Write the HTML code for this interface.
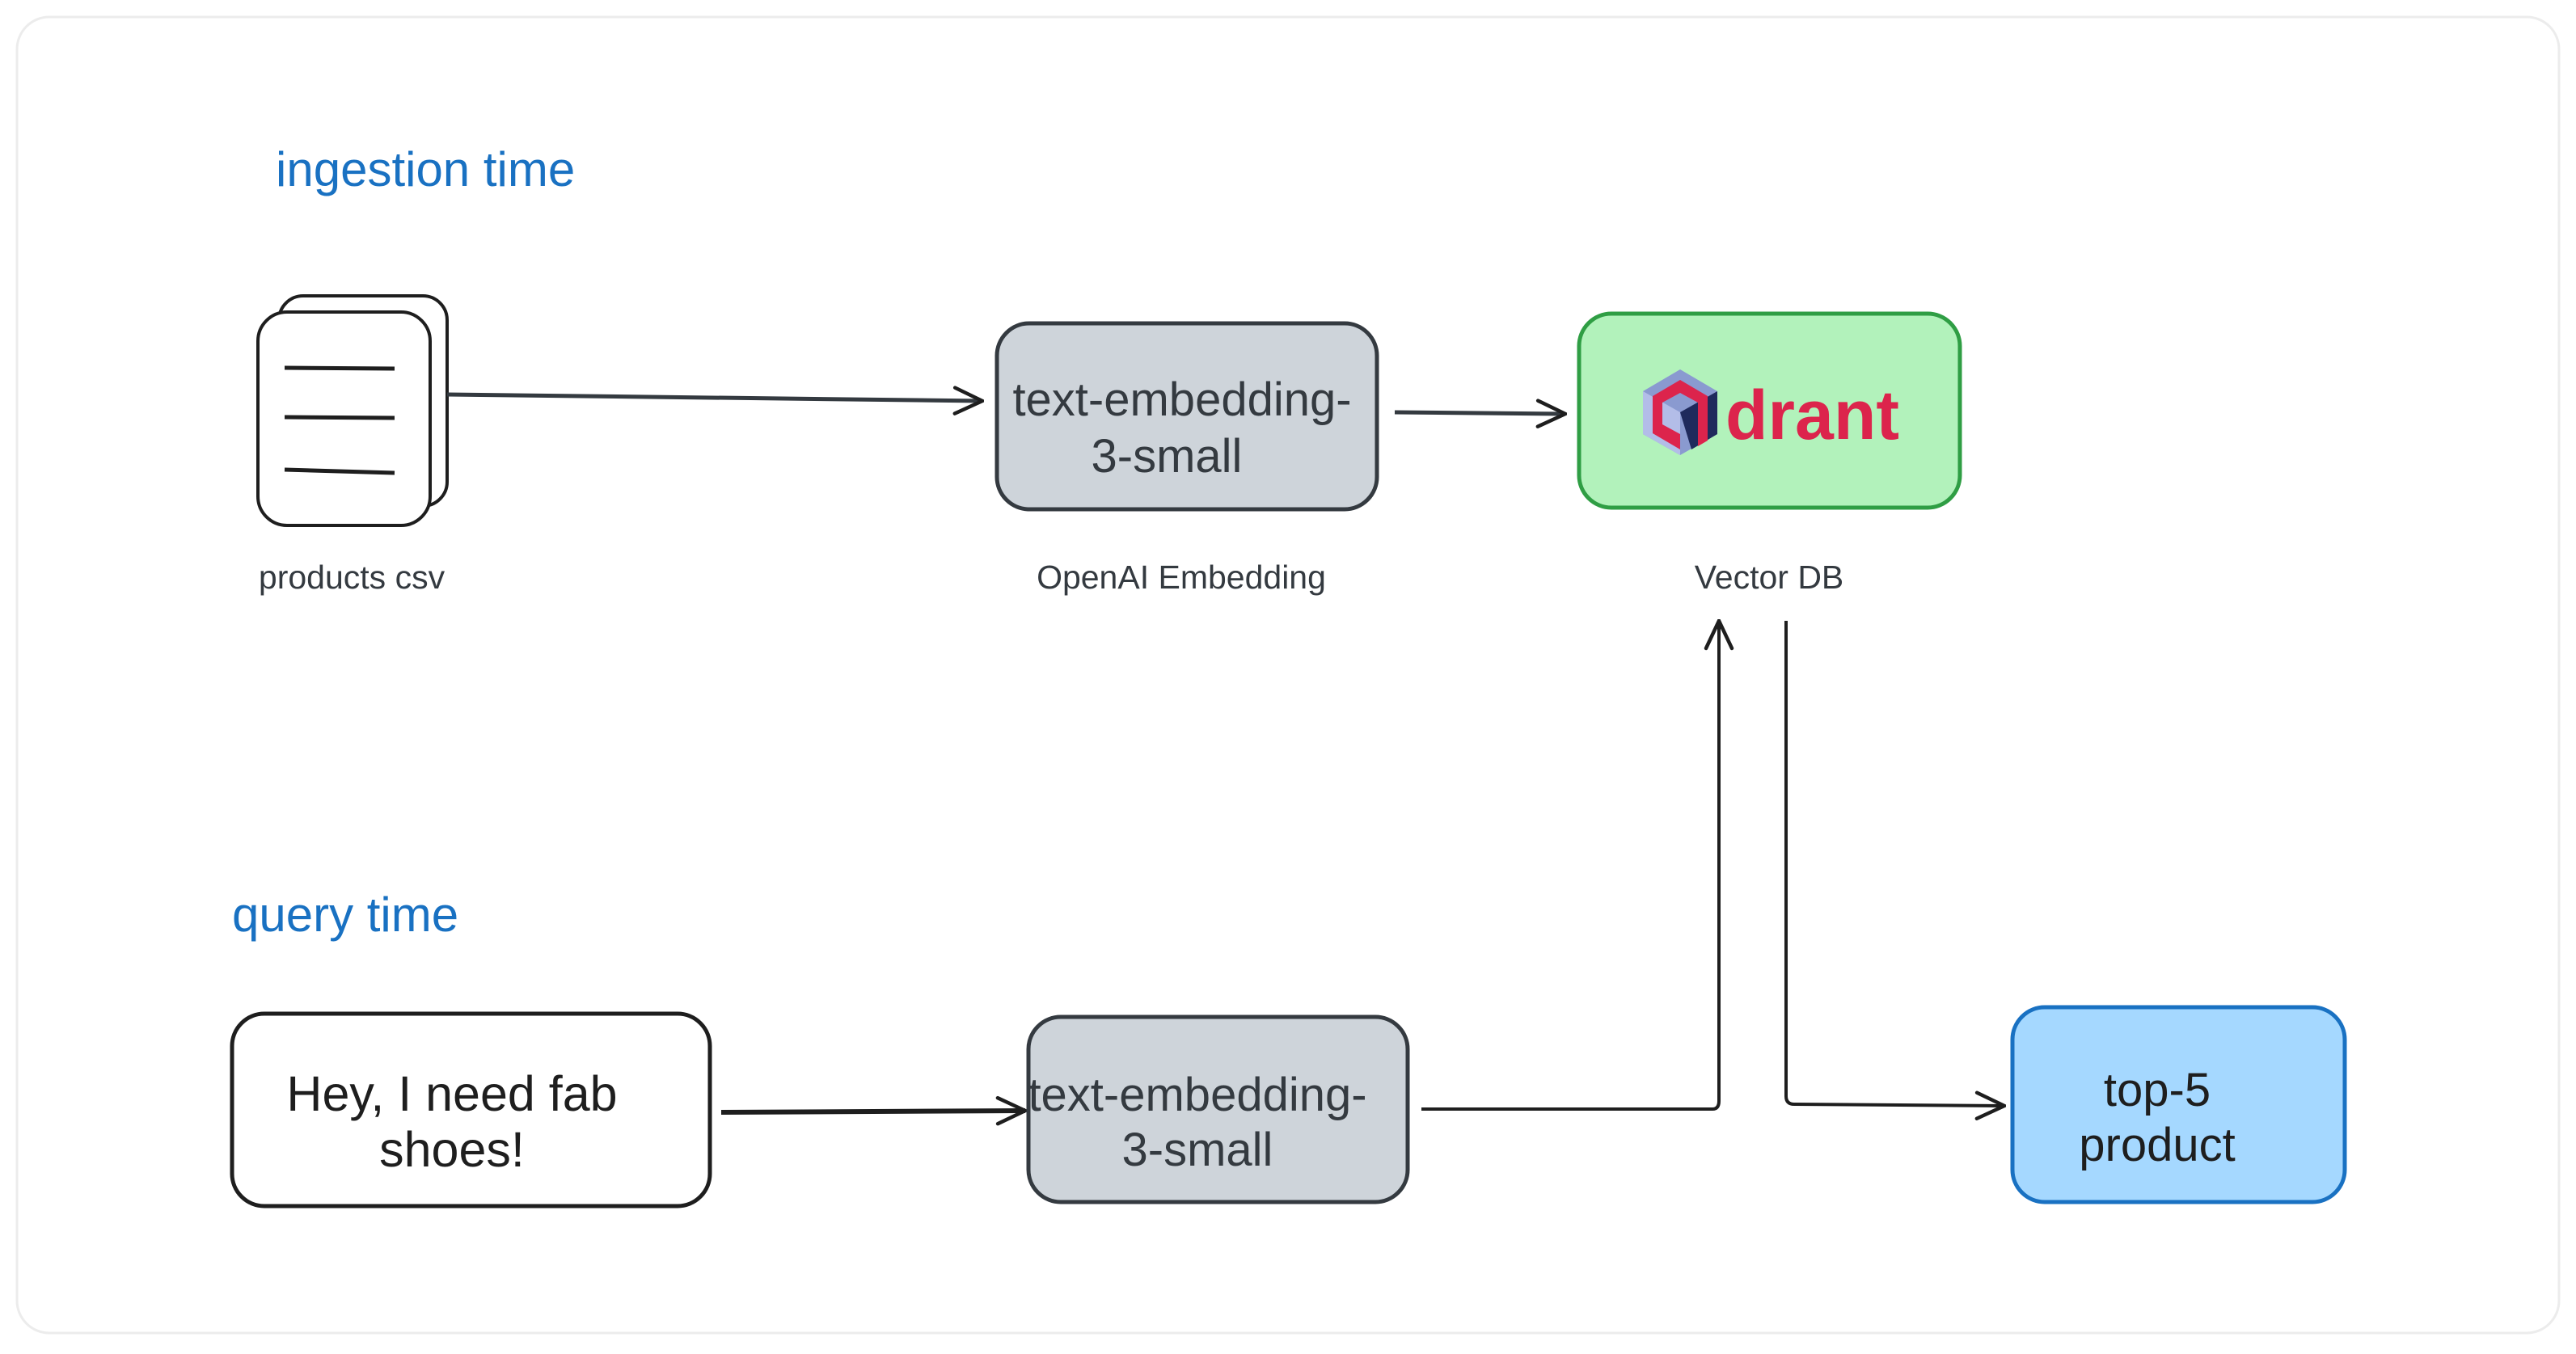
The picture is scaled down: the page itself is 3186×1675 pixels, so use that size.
<!DOCTYPE html>
<html><head><meta charset="utf-8"><style>
html,body{margin:0;padding:0;background:#fff;}
body{width:3186px;height:1670px;overflow:hidden;}
svg text{font-family:"Liberation Sans",sans-serif;}
</style></head><body>
<svg width="3186" height="1670" viewBox="0 0 3186 1670" xmlns="http://www.w3.org/2000/svg">
<defs>
<marker id="ahb" viewBox="0 0 40 40" refX="38" refY="20" markerWidth="40" markerHeight="40" markerUnits="userSpaceOnUse" orient="auto">
<path d="M4,4 L38,20 L4,36" fill="none" stroke="#1e1e1e" stroke-width="4.5" stroke-linecap="round"/>
</marker>
</defs>
<rect x="21" y="21" width="3144" height="1628" rx="40" fill="#fff" stroke="#ececec" stroke-width="3"/>

<text x="341" y="230" font-size="60" fill="#1971c2">ingestion time</text>
<text x="287" y="1152" font-size="60" fill="#1971c2">query time</text>

<rect x="345" y="366" width="208" height="260" rx="30" fill="#fff" stroke="#1e1e1e" stroke-width="4"/>
<rect x="319" y="386" width="213" height="264" rx="36" fill="#fff" stroke="#1e1e1e" stroke-width="4"/>
<line x1="352" y1="455" x2="488" y2="456" stroke="#1e1e1e" stroke-width="5"/>
<line x1="352" y1="516" x2="488" y2="517" stroke="#1e1e1e" stroke-width="5"/>
<line x1="352" y1="581" x2="488" y2="585" stroke="#1e1e1e" stroke-width="5"/>

<line x1="553" y1="488" x2="1215" y2="496" stroke="#343a40" stroke-width="5" marker-end="url(#ahb)"/>
<rect x="1233" y="400" width="470" height="230" rx="40" fill="#ced4da" stroke="#343a40" stroke-width="5"/>
<text x="1462" y="514" font-size="58" text-anchor="middle" fill="#343a40">text-embedding-</text>
<text x="1443" y="584" font-size="58" text-anchor="middle" fill="#343a40">3-small</text>

<line x1="1725" y1="510" x2="1936" y2="512" stroke="#343a40" stroke-width="5" marker-end="url(#ahb)"/>
<rect x="1953" y="388" width="471" height="240" rx="40" fill="#b2f2bb" stroke="#2f9e44" stroke-width="5"/>
<polygon points="2078,457 2124,484 2124,537 2078,563 2032,537 2032,484" fill="#8a9ad0"/>
<polygon points="2032,484 2078,510 2078,563 2032,537" fill="#b3bde8"/>
<polygon points="2078,510 2124,484 2124,537 2092,556" fill="#1f2a5c"/>
<path d="M2078,470 L2112,490 L2112,545 L2100,552 L2100,498 L2078,486 L2056,498 L2056,525 L2078,537 L2078,556 L2044,536 L2044,490 Z" fill="#dc244c"/>
<text x="2134" y="543" font-size="86" font-weight="bold" fill="#dc244c">drant</text>

<text x="435" y="728" font-size="41" text-anchor="middle" fill="#343a40">products csv</text>
<text x="1461" y="728" font-size="41" text-anchor="middle" fill="#343a40">OpenAI Embedding</text>
<text x="2188" y="728" font-size="41" text-anchor="middle" fill="#343a40">Vector DB</text>

<rect x="287" y="1254" width="591" height="238" rx="40" fill="#fff" stroke="#1e1e1e" stroke-width="5"/>
<text x="559" y="1374" font-size="61" text-anchor="middle" fill="#1e1e1e">Hey, I need fab</text>
<text x="559" y="1443" font-size="61" text-anchor="middle" fill="#1e1e1e">shoes!</text>

<line x1="892" y1="1376" x2="1268" y2="1374" stroke="#1e1e1e" stroke-width="6" marker-end="url(#ahb)"/>
<rect x="1272" y="1258" width="469" height="229" rx="40" fill="#ced4da" stroke="#343a40" stroke-width="5"/>
<text x="1481" y="1374" font-size="58" text-anchor="middle" fill="#343a40">text-embedding-</text>
<text x="1481" y="1442" font-size="58" text-anchor="middle" fill="#343a40">3-small</text>

<path d="M1758,1372 L2118,1372 Q2126,1372 2126,1362 L2126,768" fill="none" stroke="#1e1e1e" stroke-width="4" marker-end="url(#ahb)"/>
<path d="M2209,768 L2209,1356 Q2209,1366 2219,1366 L2479,1368" fill="none" stroke="#1e1e1e" stroke-width="4" marker-end="url(#ahb)"/>

<rect x="2489" y="1246" width="411" height="241" rx="40" fill="#a5d8ff" stroke="#1971c2" stroke-width="5"/>
<text x="2668" y="1368" font-size="58" text-anchor="middle" fill="#1e1e1e">top-5</text>
<text x="2668" y="1436" font-size="58" text-anchor="middle" fill="#1e1e1e">product</text>
</svg>
</body></html>
